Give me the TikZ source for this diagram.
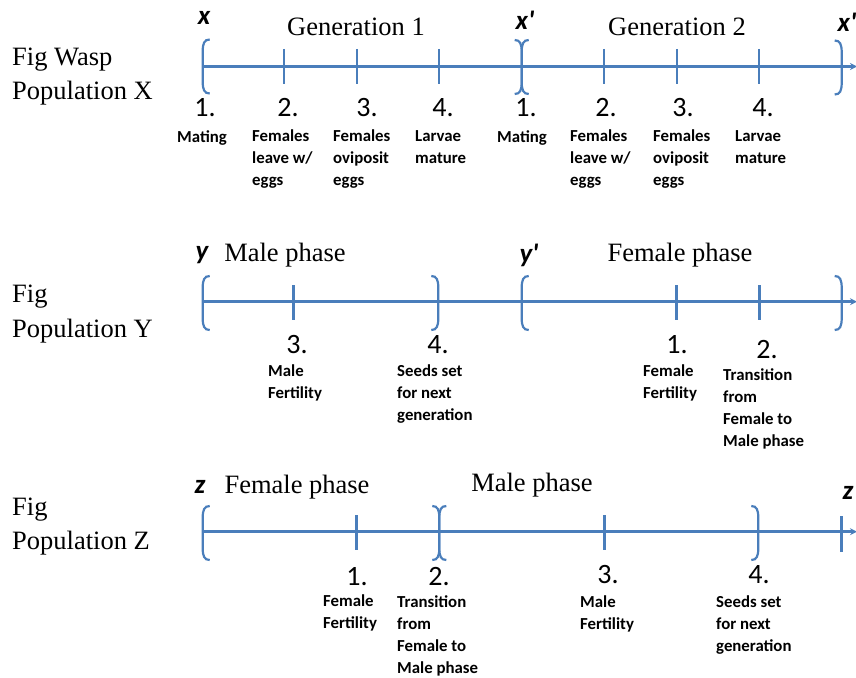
\documentclass[tikz,border=0pt]{standalone}
\usepackage{fontspec}
\setmainfont{Liberation Serif}
\newfontfamily\calfont{Carlito}
\usetikzlibrary{arrows.meta}
\definecolor{tl}{RGB}{74,126,187}
\tikzset{
  axis/.style={draw=tl, line width=2.6pt, -{Stealth[length=7pt,width=7pt]}},
  tick/.style={draw=tl, line width=2.6pt},
  brk/.style={draw=tl, line width=2.2pt},
  lbr/.pic={\path[brk] (7,-27) .. controls (1.5,-27) and (0,-23) .. (0,-15) -- (0,15) .. controls (0,23) and (1.5,27) .. (7,27);},
  rbr/.pic={\path[brk] (-7,-27) .. controls (-1.5,-27) and (0,-23) .. (0,-15) -- (0,15) .. controls (0,23) and (-1.5,27) .. (-7,27);},
  poplbl/.style={anchor=west, inner sep=0, font=\fontsize{26.5}{32}\selectfont},
  phase/.style={inner sep=0, font=\fontsize{26.5}{32}\selectfont},
  var/.style={inner sep=0, font=\calfont\bfseries\itshape\fontsize{27}{30}\selectfont},
  num/.style={inner sep=0, font=\calfont\fontsize{28}{30}\selectfont},
  step lbl/.style={anchor=north west, inner sep=0, align=left, font=\calfont\bfseries\fontsize{16.8}{22}\selectfont},
}
\begin{document}
\begin{tikzpicture}[x=1pt,y=-1pt]
\useasboundingbox (0,0) rectangle (856,677);
% ---------------- Row 1
\node[poplbl] (fw1) at (12,60) {Fig Wasp};
\node[poplbl] (fw2) at (12,93) {Population X};
\coordinate (a1) at (202.7,66.5);
\coordinate (a2) at (857,66.5);
\draw[axis] (a1) -- (a2);
\pic at (202.7,66.5) {lbr};
\pic at (521.7,67) {lbr};
\pic at (521.7,67) {rbr};
\pic at (841.7,67.5) {rbr};
\foreach \xx in {284,357,439,604,677,759}{\draw[tick] (\xx,49) -- (\xx,84);}
\node[var] (vx1) at (204,18) {x};
\node[phase] (g1) at (356,27) {Generation 1};
\node[var] (vx2) at (525,20) {x'};
\node[phase] (g2) at (677,27) {Generation 2};
\node[var] (vx3) at (847,22) {x'};
\node[num] (n11) at (205,108) {1.};
\node[num] (n12) at (288,108) {2.};
\node[num] (n13) at (367,108) {3.};
\node[num] (n14) at (443,108) {4.};
\node[num] (n15) at (526,108) {1.};
\node[num] (n16) at (606,108) {2.};
\node[num] (n17) at (683,108) {3.};
\node[num] (n18) at (763,108) {4.};
\node[step lbl] (t11) at (177,130) {Mating};
\node[step lbl] (t12) at (252,130) {Females\\leave w/\\eggs};
\node[step lbl] (t13) at (333,130) {Females\\oviposit\\eggs};
\node[step lbl] (t14) at (415,130) {Larvae\\mature};
\node[step lbl] (t15) at (497,130) {Mating};
\node[step lbl] (t16) at (570,130) {Females\\leave w/\\eggs};
\node[step lbl] (t17) at (653,130) {Females\\oviposit\\eggs};
\node[step lbl] (t18) at (735,130) {Larvae\\mature};
% ---------------- Row 2
\node[poplbl] (fy1) at (12,297) {Fig};
\node[poplbl] (fy2) at (12,331) {Population Y};
\coordinate (b1) at (202.7,301.7);
\coordinate (b2) at (857,301.7);
\draw[axis] (b1) -- (b2);
\pic at (202.7,303) {lbr};
\pic at (438.3,303) {rbr};
\pic at (521.7,303) {lbr};
\pic at (841.7,303) {rbr};
\foreach \xx in {293.3,676.7,759.3}{\draw[tick] (\xx,285) -- (\xx,320);}
\node[var] (vy1) at (202,255) {y};
\node[phase] (mp1) at (285,255) {Male phase};
\node[var] (vy2) at (529,255) {y'};
\node[phase] (fp1) at (680,255) {Female phase};
\node[num] (n21) at (297,345) {3.};
\node[num] (n22) at (438,345) {4.};
\node[num] (n23) at (677,345) {1.};
\node[num] (n24) at (767,350) {2.};
\node[step lbl] (t21) at (268,365) {Male\\Fertility};
\node[step lbl] (t22) at (397,365) {Seeds set\\for next\\generation};
\node[step lbl] (t23) at (643,365) {Female\\Fertility};
\node[step lbl] (t24) at (723,368) {Transition\\from\\Female to\\Male phase};
% ---------------- Row 3
\node[poplbl] (fz1) at (12,510) {Fig};
\node[poplbl] (fz2) at (12,543) {Population Z};
\coordinate (c1) at (202.7,531.7);
\coordinate (c2) at (857,531.7);
\draw[axis] (c1) -- (c2);
\pic at (202.7,533) {lbr};
\pic at (439.3,533) {lbr};
\pic at (439.3,533) {rbr};
\pic at (758.3,533) {rbr};
\foreach \xx in {356.7,604.3}{\draw[tick] (\xx,515) -- (\xx,550);}
\draw[tick] (841.7,516) -- (841.7,552);
\node[var] (vz1) at (200,487) {z};
\node[phase] (fp2) at (297,487) {Female phase};
\node[phase] (mp2) at (532,485) {Male phase};
\node[var] (vz2) at (848,493) {z};
\node[num] (n31) at (357,577) {1.};
\node[num] (n32) at (439,577) {2.};
\node[num] (n33) at (608,575) {3.};
\node[num] (n34) at (759,575) {4.};
\node[step lbl] (t31) at (323,595) {Female\\Fertility};
\node[step lbl] (t32) at (397,595) {Transition\\from\\Female to\\Male phase};
\node[step lbl] (t33) at (580,596) {Male\\Fertility};
\node[step lbl] (t34) at (716,596) {Seeds set\\for next\\generation};
\end{tikzpicture}
\end{document}
